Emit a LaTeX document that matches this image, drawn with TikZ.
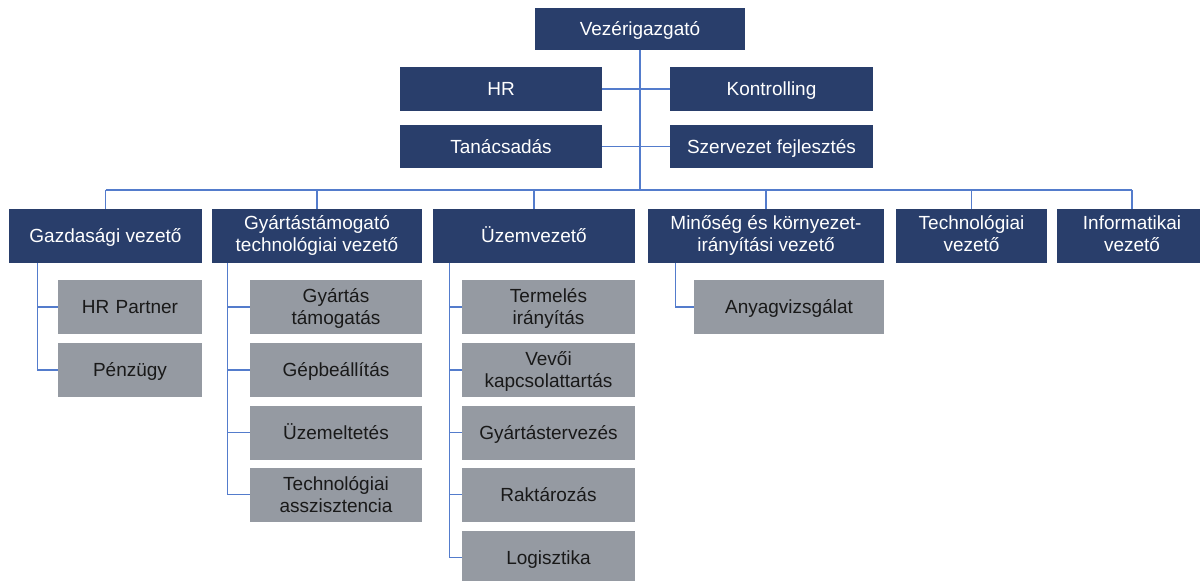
\documentclass[tikz,border=0pt]{standalone}
\usepackage{fontspec}
\setmainfont{Liberation Sans}
\definecolor{navy}{RGB}{41,62,107}
\definecolor{steel}{RGB}{149,154,162}
\definecolor{wire}{RGB}{84,124,204}
\newcommand\capstrut{\rule[-4.2pt]{0pt}{22pt}}
\tikzset{
  lead/.style={fill=navy,text=white,inner sep=0pt,align=center,minimum height=#1},
  lead/.default=54pt,
  unit/.style={fill=steel,text=black!90,inner sep=0pt,align=center,minimum height=54pt,text width=#1},
  link/.style={draw=wire,line width=1.1pt}
}
\begin{document}
\begin{tikzpicture}[x=1pt,y=-1pt,font=\fontsize{19}{22}\selectfont,
    execute at begin node=\capstrut,execute at end node=\capstrut]
  \useasboundingbox (0,0) rectangle (1200,581);
  % top
  \node[lead=42pt,minimum width=210pt] (ceo) at (640,29) {Vezérigazgató};
  \node[lead=44pt,minimum width=202pt] (hr) at (501,89) {HR};
  \node[lead=44pt,minimum width=203pt] (kontr) at (771.5,89) {Kontrolling};
  \node[lead=43pt,minimum width=202pt] (tanacs) at (501,146.5) {Tanácsadás};
  \node[lead=43pt,minimum width=203pt] (szerv) at (771.5,146.5) {Szervezet fejlesztés};
  \coordinate (bus) at (640,190);
  % managers
  \node[lead,minimum width=193pt] (gazd) at (105.5,236) {Gazdasági vezető};
  \node[lead,minimum width=210pt] (gyart) at (317,236) {Gyártástámogató\\technológiai vezető};
  \node[lead,minimum width=202pt] (uzem) at (534,236) {Üzemvezető};
  \node[lead,minimum width=236pt] (minos) at (766,236) {Minőség és környezet-\\irányítási vezető};
  \node[lead,minimum width=151pt] (techn) at (971.5,236) {Technológiai\\vezető};
  \node[lead,minimum width=150pt] (info) at (1132,236) {Informatikai\\vezető};
  % units
  \node[unit=144pt] (hrp) at (130,307) {HR Partner};
  \node[unit=144pt] (penz) at (130,370) {Pénzügy};
  \node[unit=172pt] (gytam) at (336,307) {Gyártás\\támogatás};
  \node[unit=172pt] (gepb) at (336,370) {Gépbeállítás};
  \node[unit=172pt] (uzemel) at (336,432.5) {Üzemeltetés};
  \node[unit=172pt] (tasz) at (336,494.5) {Technológiai\\asszisztencia};
  \node[unit=173pt] (term) at (548.5,307) {Termelés\\irányítás};
  \node[unit=173pt] (vevo) at (548.5,370) {Vevői\\kapcsolattartás};
  \node[unit=173pt] (gyterv) at (548.5,432.5) {Gyártástervezés};
  \node[unit=173pt] (rakt) at (548.5,494.5) {Raktározás};
  \node[unit=173pt] (logi) at (548.5,557.5) {Logisztika};
  \node[unit=190pt] (anyag) at (789,307) {Anyagvizsgálat};
  % lines
  \draw[link] (ceo.south) -- (bus);
  \draw[link] (hr.east) -- (kontr.west);
  \draw[link] (tanacs.east) -- (szerv.west);
  \draw[link] (gazd.north |- bus) -- (info.north |- bus);
  \foreach \m in {gazd,gyart,uzem,minos,techn,info}
    \draw[link] (\m.north) -- (\m.north |- bus);
  \foreach \u in {hrp,penz}
    \draw[link] ([xshift=29pt]gazd.south west) |- (\u.west);
  \foreach \u in {gytam,gepb,uzemel,tasz}
    \draw[link] ([xshift=16pt]gyart.south west) |- (\u.west);
  \foreach \u in {term,vevo,gyterv,rakt,logi}
    \draw[link] ([xshift=17pt]uzem.south west) |- (\u.west);
  \draw[link] ([xshift=28pt]minos.south west) |- (anyag.west);
\end{tikzpicture}
\end{document}
